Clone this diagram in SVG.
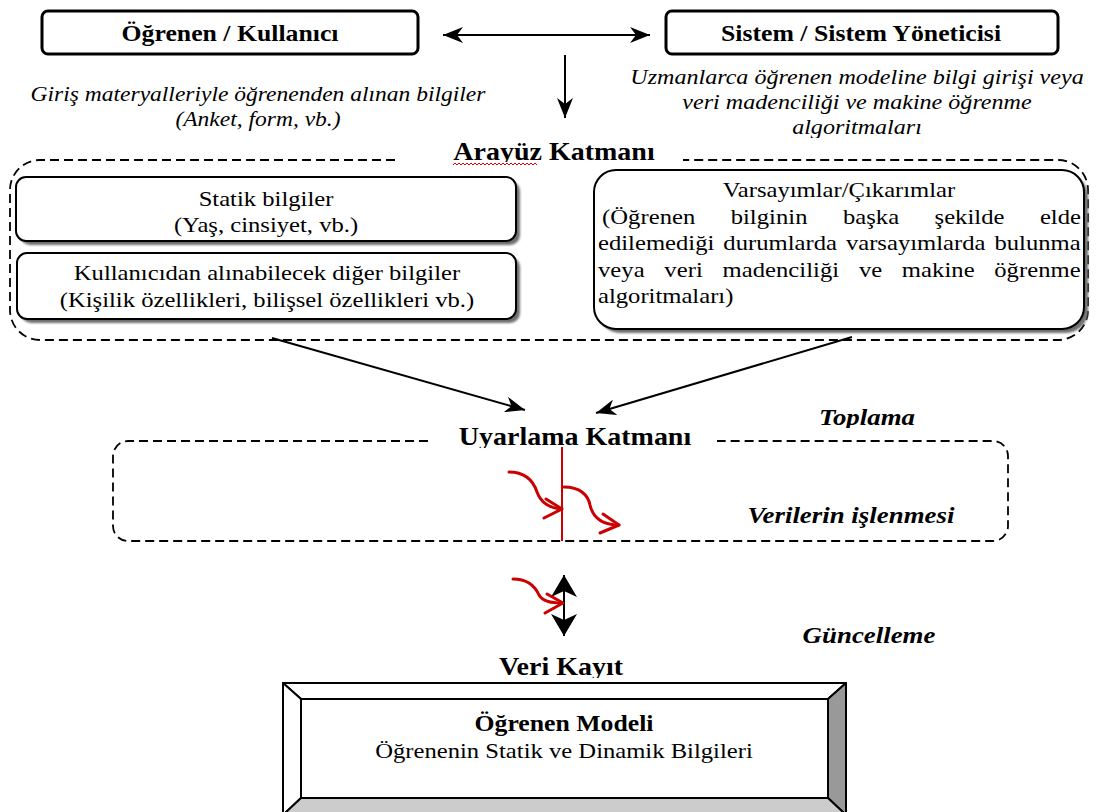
<svg xmlns="http://www.w3.org/2000/svg" width="1099" height="812" viewBox="0 0 1099 812">
<style>
.t{font-family:"Liberation Serif","Times New Roman",serif;fill:#000}
.reg{font-size:22px}
.it{font-size:21.5px;font-style:italic}
.it2{font-size:21px;font-style:italic}
.b{font-size:23px;font-weight:bold}
.bl{font-size:25px;font-weight:bold}
.bi{font-size:24px;font-weight:bold;font-style:italic}
.box{fill:#fff;stroke:#000;stroke-width:2}
.topbox{fill:#fff;stroke:#000;stroke-width:3}
.shadow{fill:#6e6e6e;filter:url(#blur)}
.dash{fill:none;stroke:#000;stroke-width:1.8;stroke-dasharray:9 5}
.con{fill:none;stroke:#000;stroke-width:2}
.red{fill:none;stroke:#cc0000;stroke-width:3;stroke-linecap:round;stroke-linejoin:round}
</style>
<defs>
<filter id="blur" x="-5%" y="-5%" width="110%" height="120%"><feGaussianBlur stdDeviation="1.2"/></filter>
<marker id="ah" viewBox="0 0 20 16" refX="20" refY="8" markerWidth="20" markerHeight="16" markerUnits="userSpaceOnUse" orient="auto-start-reverse"><path d="M0,0 L20,8 L0,16 L6,8 z" fill="#000"/></marker>
<marker id="ah2" viewBox="0 0 22 26" refX="22" refY="13" markerWidth="22" markerHeight="26" markerUnits="userSpaceOnUse" orient="auto-start-reverse"><path d="M0,0 L22,13 L0,26 L6,13 z" fill="#000"/></marker>
<clipPath id="cR"><rect x="600" y="55" width="499" height="83"/></clipPath>
<clipPath id="cA"><rect x="440" y="130" width="240" height="32"/></clipPath>
<clipPath id="cU"><rect x="440" y="415" width="270" height="33"/></clipPath>
<clipPath id="cT"><rect x="800" y="400" width="140" height="28"/></clipPath>
<clipPath id="cV"><rect x="480" y="645" width="160" height="33"/></clipPath>
</defs>

<g id="user">
<rect class="topbox" x="42" y="11" width="376" height="43" rx="6"/>
<text class="t b" transform="translate(230,41) scale(1.12,1)" text-anchor="middle">Öğrenen / Kullanıcı</text>
</g>

<g id="system">
<rect class="topbox" x="666" y="11" width="392" height="43" rx="6"/>
<text class="t b" transform="translate(861,41) scale(1.12,1)" text-anchor="middle">Sistem / Sistem Yöneticisi</text>
</g>

<g id="user-note">
<text class="t it2" transform="translate(258,101) scale(1.12,1)" text-anchor="middle">Giriş materyalleriyle öğrenenden alınan bilgiler</text>
<text class="t it2" transform="translate(258,126) scale(1.12,1)" text-anchor="middle">(Anket, form, vb.)</text>
</g>

<g id="system-note" clip-path="url(#cR)">
<text class="t it" transform="translate(857,84) scale(1.12,1)" text-anchor="middle">Uzmanlarca öğrenen modeline bilgi girişi veya</text>
<text class="t it" transform="translate(857,109) scale(1.12,1)" text-anchor="middle">veri madenciliği ve makine öğrenme</text>
<text class="t it" transform="translate(857,134) scale(1.12,1)" text-anchor="middle">algoritmaları</text>
</g>

<g id="interface-layer">
<path class="dash" d="M395,160 L40,160 A30,30 0 0 0 10,190 L10,310 A30,30 0 0 0 40,340 L1058,340 A30,30 0 0 0 1088,310 L1088,190 A30,30 0 0 0 1058,160 L683,160"/>
<g clip-path="url(#cA)">
<text class="t bl" transform="translate(554,160) scale(1.12,1)" text-anchor="middle">Arayüz Katmanı</text>
</g>
<path d="M453,165 l2,-2 l2,2 l2,-2 l2,2 l2,-2 l2,2 l2,-2 l2,2 l2,-2 l2,2 l2,-2 l2,2 l2,-2 l2,2 l2,-2 l2,2 l2,-2 l2,2 l2,-2 l2,2 l2,-2 l2,2 l2,-2 l2,2 l2,-2 l2,2 l2,-2 l2,2 l2,-2 l2,2 l2,-2 l2,2 l2,-2 l2,2 l2,-2 l2,2 l2,-2 l2,2 l2,-2 l2,2 l2,-2 l2,2" fill="none" stroke="#e00000" stroke-width="1"/>
</g>

<g id="static-info">
<rect class="shadow" x="20" y="181" width="500" height="64" rx="10"/>
<rect class="box" x="16" y="177" width="500" height="64" rx="10"/>
<text class="t reg" transform="translate(266,206) scale(1.12,1)" text-anchor="middle">Statik bilgiler</text>
<text class="t reg" transform="translate(266,232) scale(1.12,1)" text-anchor="middle">(Yaş, cinsiyet, vb.)</text>
</g>

<g id="other-info">
<rect class="shadow" x="21" y="257" width="499" height="66" rx="10"/>
<rect class="box" x="17" y="253" width="499" height="66" rx="10"/>
<text class="t reg" transform="translate(267,280) scale(1.12,1)" text-anchor="middle">Kullanıcıdan alınabilecek diğer bilgiler</text>
<text class="t reg" transform="translate(267,307) scale(1.12,1)" text-anchor="middle">(Kişilik özellikleri, bilişsel özellikleri vb.)</text>
</g>

<g id="assumptions">
<rect class="shadow" x="598" y="174" width="490" height="159" rx="22"/>
<rect class="box" x="594" y="170" width="490" height="159" rx="22"/>
<text class="t reg" transform="translate(839,197) scale(1.12,1)" text-anchor="middle">Varsayımlar/Çıkarımlar</text>
<g transform="translate(598,0) scale(1.12,1)">
<text class="t reg" x="3.6" y="224" word-spacing="26" textLength="427.7" lengthAdjust="spacing">(Öğrenen bilginin başka şekilde elde</text>
<text class="t reg" x="0" y="250" word-spacing="2.5" textLength="431" lengthAdjust="spacing">edilemediği durumlarda varsayımlarda bulunma</text>
<text class="t reg" x="0" y="277" word-spacing="12" textLength="431" lengthAdjust="spacing">veya veri madenciliği ve makine öğrenme</text>
<text class="t reg" x="0" y="303">algoritmaları)</text>
</g>
</g>

<g id="adaptation-layer">
<path class="dash" d="M428,441 L128,441 A15,15 0 0 0 113,456 L113,526 A15,15 0 0 0 128,541 L993,541 A15,15 0 0 0 1008,526 L1008,456 A15,15 0 0 0 993,441 L717,441"/>
<g clip-path="url(#cU)">
<text class="t bl" transform="translate(575,445) scale(1.12,1)" text-anchor="middle">Uyarlama Katmanı</text>
</g>
</g>

<g id="label-toplama" clip-path="url(#cT)">
<text class="t bi" transform="translate(867,425) scale(1.12,1)" text-anchor="middle">Toplama</text>
</g>
<g id="label-isleme">
<text class="t bi" transform="translate(851,523) scale(1.12,1)" text-anchor="middle">Verilerin işlenmesi</text>
</g>
<g id="label-guncelleme">
<text class="t bi" transform="translate(869,643) scale(1.12,1)" text-anchor="middle">Güncelleme</text>
</g>
<g id="label-kayit" clip-path="url(#cV)">
<text class="t bl" transform="translate(561,675) scale(1.12,1)" text-anchor="middle">Veri Kayıt</text>
</g>

<g id="learner-model">
<polygon points="283,683 846,683 828,699 301,699" fill="#fff" stroke="#000" stroke-width="2" stroke-linejoin="round"/>
<polygon points="283,683 301,699 301,798 283,815" fill="#fff" stroke="#000" stroke-width="2" stroke-linejoin="round"/>
<polygon points="846,683 846,815 828,798 828,699" fill="#999" stroke="#000" stroke-width="2" stroke-linejoin="round"/>
<polygon points="301,798 828,798 846,815 283,815" fill="#ccc" stroke="#000" stroke-width="2" stroke-linejoin="round"/>
<rect x="301" y="699" width="527" height="99" fill="#fff" stroke="#000" stroke-width="2"/>
<text class="t b" transform="translate(564,731) scale(1.12,1)" text-anchor="middle">Öğrenen Modeli</text>
<text class="t reg" transform="translate(564,758) scale(1.12,1)" text-anchor="middle">Öğrenenin Statik ve Dinamik Bilgileri</text>
</g>

<g id="connectors">
<line class="con" x1="443" y1="35" x2="650" y2="35" marker-start="url(#ah)" marker-end="url(#ah)"/>
<line class="con" x1="565" y1="55" x2="565" y2="118" marker-end="url(#ah)"/>
<line class="con" x1="272" y1="338" x2="525" y2="410" marker-end="url(#ah)"/>
<line class="con" x1="852" y1="337" x2="596" y2="413" marker-end="url(#ah)"/>
<line class="con" x1="564" y1="575" x2="564" y2="636" marker-start="url(#ah2)" marker-end="url(#ah2)"/>
<line x1="562" y1="447" x2="562" y2="541" stroke="#cc0000" stroke-width="2"/>
<path class="red" d="M509,472 C525,472 533,480 537,492 C541,503 550,508 561,509"/>
<path class="red" d="M546,499 L562,509 L544,518"/>
<path class="red" d="M564,487 C580,487 588,495 590,505 C593,518 603,525 619,525"/>
<path class="red" d="M603,514 L619,525 L600,533"/>
<path class="red" d="M513,579 C527,579 535,586 539,595 C543,602 552,603 562,603"/>
<path class="red" d="M547,594 L563,603 L545,613"/>
</g>
</svg>
